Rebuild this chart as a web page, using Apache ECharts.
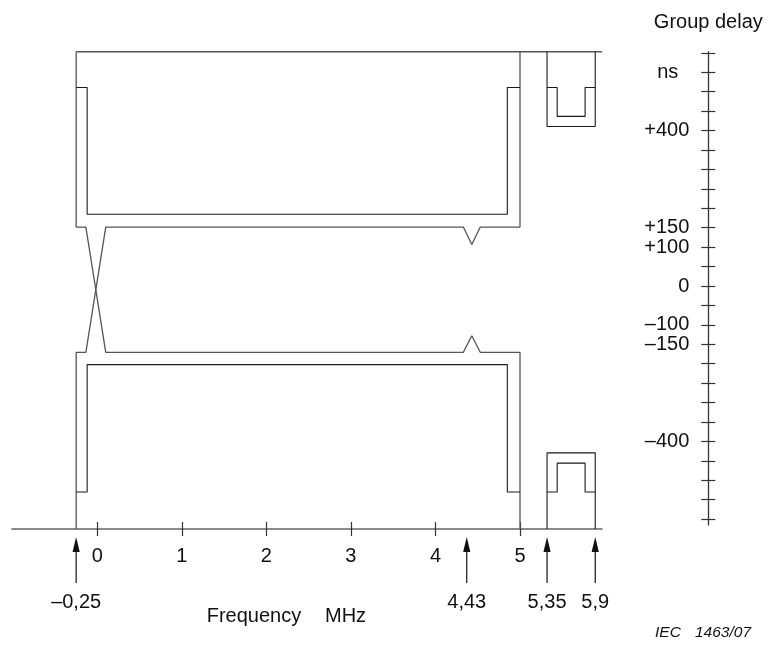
<!DOCTYPE html>
<html>
<head>
<meta charset="utf-8">
<script src="https://cdn.jsdelivr.net/npm/echarts@6.0.0/dist/echarts.min.js"></script>
<style>
  html, body { margin: 0; padding: 0; background: #fff; }
  #chart { width: 768px; height: 650px; }
</style>
</head>
<body>
<div id="chart"></div>
<script>
// ---------- data (frequency in MHz, group delay in ns) ----------
const freqTicks = [0, 1, 2, 3, 4, 5];
const delayTicks = [-600, -550, -500, -450, -400, -350, -300, -250, -200, -150, -100, -50, 0,
                    50, 100, 150, 200, 250, 300, 350, 400, 450, 500, 550, 600];
const delayLabelValues = [550, 400, 150, 100, 0, -100, -150, -400];
const delayLabelTexts  = ['ns', '+400', '+150', '+100', '0', '\u2013100', '\u2013150', '\u2013400'];

// tolerance mask outlines [MHz, ns]
const maskTopLine    = [[-0.25, 600], [5.97, 600]];
const outerPathA     = [[-0.25, 600], [-0.25, 150], [-0.135, 150], [0.1, -171.5], [4.33, -171.5],
                        [4.43, -129], [4.53, -171.5], [5, -171.5], [5, -625]];
const outerPathB     = [[5, 600], [5, 150], [4.53, 150], [4.43, 105], [4.33, 150], [0.1, 150],
                        [-0.135, -171.5], [-0.25, -171.5], [-0.25, -625]];
const innerUpperPath = [[-0.25, 508], [-0.12, 508], [-0.12, 183], [4.85, 183], [4.85, 508], [5, 508]];
const innerLowerPath = [[-0.25, -530], [-0.12, -530], [-0.12, -203], [4.85, -203], [4.85, -530], [5, -530]];
const boxUpperOuter  = [[5.32, 600], [5.32, 408], [5.89, 408], [5.89, 600]];
const boxUpperInner  = [[5.32, 508], [5.44, 508], [5.44, 434], [5.77, 434], [5.77, 508], [5.89, 508]];
const boxLowerOuter  = [[5.32, -625], [5.32, -429.5], [5.89, -429.5], [5.89, -625]];
const boxLowerInner  = [[5.32, -530], [5.44, -530], [5.44, -456], [5.77, -456], [5.77, -530], [5.89, -530]];

// marked frequencies (arrows under the axis)
const arrowFreqs  = [-0.25, 4.37, 5.32, 5.89];
const arrowLabels = ['\u20130,25', '4,43', '5,35', '5,9'];

// ---------- chart ----------
const FONT = "'Liberation Sans', Arial, Helvetica, sans-serif";
const Y_MIN = -625, Y_MAX = 600;
const chart = echarts.init(document.getElementById('chart'), null, { renderer: 'canvas' });

function maskSeries(data, color, width) {
  return {
    type: 'line', xAxisIndex: 0, yAxisIndex: 0, data: data,
    symbol: 'none', clip: false, silent: true, animation: false,
    lineStyle: { color: color, width: width }
  };
}

const OUTER = '#555', INNER = '#1a1a1a';

const option = {
  backgroundColor: '#fff',
  animation: false,
  textStyle: { fontFamily: FONT },
  grid: [
    { left: 11.9, right: 166, top: 51.7, bottom: 121, outerBoundsMode: 'none', containLabel: false },
    { left: 708.3, width: 1, top: 51.7, bottom: 125, outerBoundsMode: 'none', containLabel: false }
  ],
  xAxis: [
    { type: 'value', gridIndex: 0, min: -1.01, max: 5.97, position: 'bottom',
      axisLine: { show: true, onZero: false, lineStyle: { color: '#666', width: 1.5 } },
      axisTick: { show: true, inside: true, length: 7, customValues: freqTicks, lineStyle: { color: '#333', width: 1.2 } },
      axisLabel: { show: true, customValues: freqTicks, margin: 17, fontSize: 20, color: '#111', fontFamily: FONT },
      splitLine: { show: false } },
    { type: 'value', gridIndex: 0, min: -1.01, max: 5.97, position: 'bottom', offset: 0,
      axisLine: { show: false, onZero: false },
      axisTick: { show: true, inside: false, length: 7, customValues: freqTicks, lineStyle: { color: '#333', width: 1.2 } },
      axisLabel: { show: false }, splitLine: { show: false } },
    { type: 'value', gridIndex: 1, min: 0, max: 1, show: false }
  ],
  yAxis: [
    { type: 'value', gridIndex: 0, min: Y_MIN, max: Y_MAX, show: false },
    { type: 'value', gridIndex: 1, min: -615, max: 603, position: 'left',
      name: 'Group delay', nameLocation: 'end', nameGap: 19,
      nameTextStyle: { fontSize: 20, color: '#111', fontFamily: FONT, align: 'center' },
      axisLine: { show: true, onZero: false, lineStyle: { color: '#333', width: 1.3 } },
      axisTick: { show: true, inside: false, length: 7, customValues: delayTicks, lineStyle: { color: '#333', width: 1.2 } },
      axisLabel: {
        show: true, customValues: delayLabelValues, margin: 19, fontSize: 20, color: '#111', fontFamily: FONT,
        formatter: function (v) {
          const i = delayLabelValues.indexOf(v);
          const t = i >= 0 ? delayLabelTexts[i] : '';
          return v === 550 ? '{n|' + t + '}' : t;
        },
        rich: { n: { fontSize: 20, color: '#111', fontFamily: FONT, padding: [0, 11, 0, 0] } }
      },
      splitLine: { show: false } },
    { type: 'value', gridIndex: 1, min: -615, max: 603, position: 'left', offset: 0,
      axisLine: { show: false, onZero: false },
      axisTick: { show: true, inside: true, length: 7, customValues: delayTicks, lineStyle: { color: '#333', width: 1.2 } },
      axisLabel: { show: false }, splitLine: { show: false } }
  ],
  series: [
    maskSeries(maskTopLine, OUTER, 1.4),
    maskSeries(outerPathA, OUTER, 1.3),
    maskSeries(outerPathB, OUTER, 1.3),
    maskSeries(innerUpperPath, INNER, 1.1),
    maskSeries(innerLowerPath, INNER, 1.1),
    maskSeries(boxUpperOuter, INNER, 1.1),
    maskSeries(boxUpperInner, INNER, 1.1),
    maskSeries(boxLowerOuter, INNER, 1.1),
    maskSeries(boxLowerInner, INNER, 1.1),
    {
      type: 'custom', xAxisIndex: 0, yAxisIndex: 0, clip: false, silent: true, animation: false,
      data: arrowFreqs.map(function (f) { return [f, Y_MIN]; }),
      renderItem: function (params, api) {
        const p = api.coord([api.value(0), api.value(1)]);
        const cx = p[0], y0 = p[1];
        return {
          type: 'group',
          children: [
            { type: 'line', shape: { x1: cx, y1: y0 + 20, x2: cx, y2: y0 + 54 },
              style: { stroke: '#111', lineWidth: 1.2 } },
            { type: 'polygon', shape: { points: [[cx, y0 + 8], [cx - 3.6, y0 + 23], [cx + 3.6, y0 + 23]] },
              style: { fill: '#111' } },
            { type: 'text', style: { text: arrowLabels[params.dataIndex], x: cx, y: y0 + 73,
                align: 'center', verticalAlign: 'middle', fontSize: 20, fontFamily: FONT, fill: '#111' } }
          ]
        };
      }
    }
  ],
  graphic: [
    { type: 'text', left: 206.7, top: 606, style: { text: 'Frequency', fontSize: 20, fontFamily: FONT, fill: '#111' } },
    { type: 'text', left: 325, top: 606, style: { text: 'MHz', fontSize: 20, fontFamily: FONT, fill: '#111' } },
    { type: 'text', left: 655, top: 625, style: { text: 'IEC', fontSize: 15.5, fontStyle: 'italic', fontFamily: FONT, fill: '#111' } },
    { type: 'text', left: 695, top: 625, style: { text: '1463/07', fontSize: 15.5, fontStyle: 'italic', fontFamily: FONT, fill: '#111' } }
  ]
};

chart.setOption(option);
</script>
</body>
</html>
